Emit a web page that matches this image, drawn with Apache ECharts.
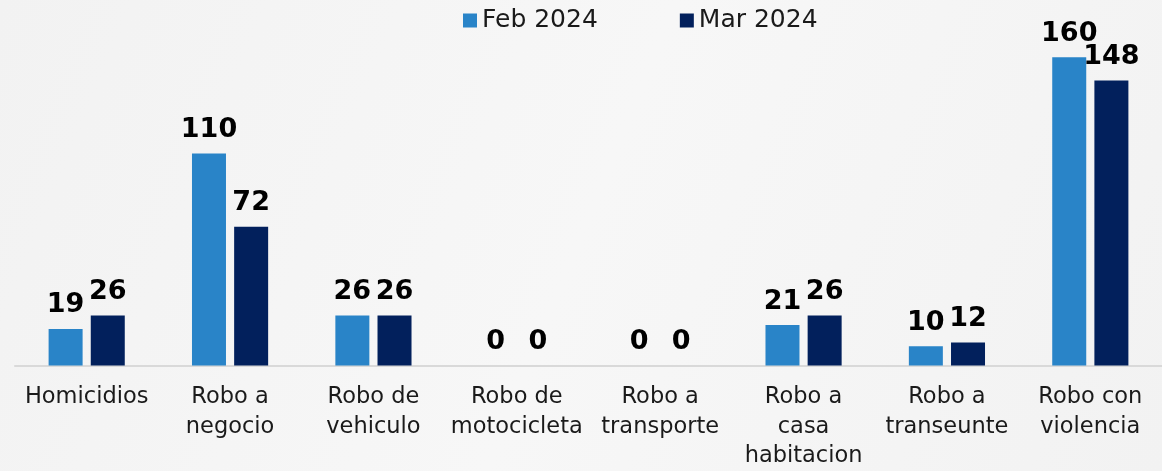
<!DOCTYPE html>
<html><head><meta charset="utf-8">
<script src="https://cdn.jsdelivr.net/npm/echarts@6/dist/echarts.min.js"></script>
<style>html,body{margin:0;padding:0;background:#f4f4f4;}#c{width:1162px;height:471px;}</style>
</head><body><div id="c"></div>
<script>
const categories = ["Homicidios","Robo a\nnegocio","Robo de\nvehiculo","Robo de\nmotocicleta","Robo a\ntransporte","Robo a\ncasa\nhabitacion","Robo a\ntranseunte","Robo con\nviolencia"];
const seriesNames = ["Feb 2024","Mar 2024"];
const feb2024 = [19,110,26,0,0,21,10,160];
const mar2024 = [26,72,26,0,0,26,12,148];

const chart = echarts.init(document.getElementById('c'));
const labelStyle = {show:true, position:'top', distance:10, fontFamily:'DejaVu Sans', fontWeight:'bold', fontSize:27, color:'#000'};
chart.setOption({
  backgroundColor: new echarts.graphic.LinearGradient(0,0,1,1,[{offset:0,color:'#f2f2f2'},{offset:0.5,color:'#f7f7f7'},{offset:1,color:'#f2f2f2'}]),
  animation:false,
  legend:{top:3, left:458, itemWidth:14, itemHeight:14, itemGap:82, icon:'rect',
    textStyle:{fontFamily:'DejaVu Sans', fontSize:25, color:'#1a1a1a'}, data:seriesNames},
  grid:{left:15, right:-11, top:38, bottom:105, containLabel:false},
  xAxis:{type:'category', data:categories,
    axisLine:{lineStyle:{color:'#d9d9d9', width:2}}, axisTick:{show:false},
    axisLabel:{interval:0, fontFamily:'DejaVu Sans', fontSize:22.5, color:'#1a1a1a', lineHeight:29.5, margin:17}},
  yAxis:{type:'value', min:0, max:170, show:false, splitLine:{show:false}},
  series:[
    {name:seriesNames[0], type:'bar', data:feb2024, barWidth:34, barGap:'24%', itemStyle:{color:'#2984c8'}, label:labelStyle},
    {name:seriesNames[1], type:'bar', data:mar2024, barWidth:34, itemStyle:{color:'#02205c'}, label:labelStyle}
  ]
});
</script></body></html>
